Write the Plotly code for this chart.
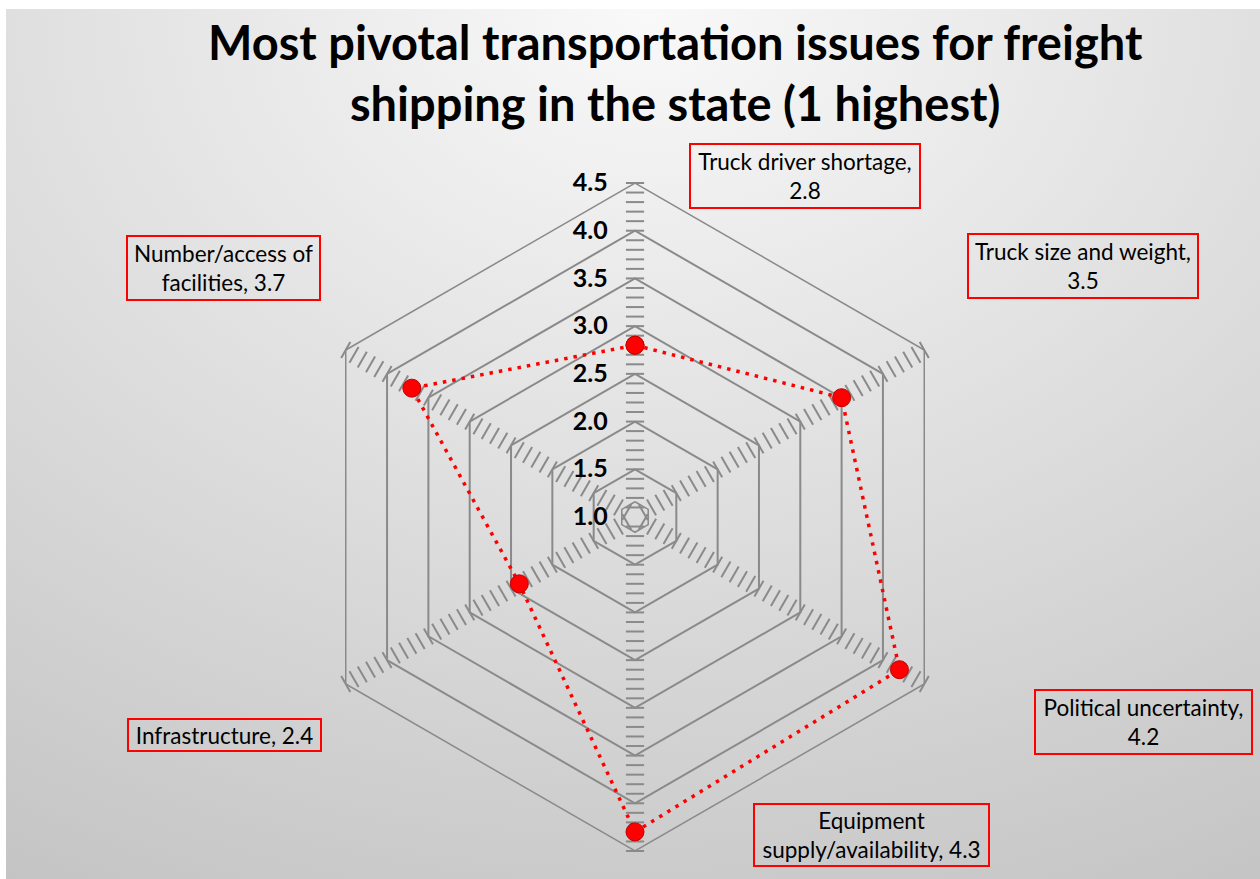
import base64
import numpy as np
import plotly.graph_objects as go

# Survey categories (clockwise from the top) and their average rank
categories = [
    "Truck driver shortage",
    "Truck size and weight",
    "Political uncertainty",
    "Equipment supply/availability",
    "Infrastructure",
    "Number/access of facilities",
]
values = [2.8, 3.5, 4.2, 4.3, 2.4, 3.7]

# Wrapped label text for each category's callout box
label_formats = [
    "Truck driver shortage,<br>{v}",
    "Truck size and weight,<br>{v}",
    "Political uncertainty,<br>{v}",
    "Equipment<br>supply/availability, {v}",
    "Infrastructure, {v}",
    "Number/access of<br>facilities, {v}",
]

# Radial axis settings
r_min, r_max, r_major, r_minor = 1.0, 4.5, 0.5, 0.1

W, H = 1260, 879
cx, cy, R = 635, 517, 334  # pixel centre and outer radius of the web

GRID = "#8a8a8a"
RED = "#ff0000"

fig = go.Figure()

# Ruler-style ticks along every spoke (no spoke line itself)
tick_r = np.round(np.arange(r_min + r_minor, r_max + r_minor / 2, r_minor), 2)
for k, cat in enumerate(categories):
    fig.add_trace(go.Scatterpolar(
        r=tick_r,
        theta=[cat] * len(tick_r),
        mode="markers",
        marker=dict(symbol="line-ew", size=13, angle=60 * k,
                    line=dict(color=GRID, width=2)),
        hoverinfo="skip", showlegend=False,
    ))

# Tiny hexagon around the centre
fig.add_trace(go.Scatterpolar(
    r=[r_min + 0.16] * (len(categories) + 1),
    theta=categories + categories[:1],
    mode="lines", line=dict(color=GRID, width=1.5),
    hoverinfo="skip", showlegend=False,
))

# Data series
fig.add_trace(go.Scatterpolar(
    r=values + values[:1],
    theta=categories + categories[:1],
    mode="lines+markers",
    line=dict(color=RED, width=3.5, dash="3.5px,6px"),
    marker=dict(size=18, color=RED, line=dict(color="#c00000", width=1)),
    showlegend=False,
))

# Gradient background
svg = (
    "<svg xmlns='http://www.w3.org/2000/svg' width='1254' height='870'>"
    "<defs><radialGradient id='g' gradientUnits='userSpaceOnUse' cx='0' cy='0' r='1' "
    "gradientTransform='translate(640,0) scale(1500,1150)'>"
    "<stop offset='0' stop-color='#f9f9f9'/>"
    "<stop offset='1' stop-color='#bcbcbc'/>"
    "</radialGradient></defs>"
    "<rect width='1254' height='870' fill='url(#g)'/></svg>"
)
bg_src = "data:image/svg+xml;base64," + base64.b64encode(svg.encode()).decode()

# Callout boxes: centre (px) and box size (px)
boxes = [
    (805, 176, 232, 66),
    (1083, 266, 232, 66),
    (1143.5, 722, 219, 66),
    (871.5, 835, 237, 64),
    (224.5, 735, 195, 34),
    (223.5, 268, 195, 66),
]
annotations = []
for fmt, v, (bx, by, bw, bh) in zip(label_formats, values, boxes):
    annotations.append(dict(
        text=fmt.format(v=v),
        x=bx / W, y=1 - by / H, xref="paper", yref="paper",
        xanchor="center", yanchor="middle", showarrow=False,
        align="center", width=bw - 4, height=bh - 4,
        bordercolor=RED, borderwidth=2, borderpad=0,
        font=dict(family="Lato", size=22.5, color="#000000"),
    ))

# Chart title
annotations.append(dict(
    text="Most pivotal transportation issues for freight<br>shipping in the state (1 highest)",
    x=675 / W, y=1 - 12 / H, xref="paper", yref="paper",
    xanchor="center", yanchor="top", showarrow=False, align="center",
    font=dict(family="Lato", size=47, color="#000000", weight="bold"),
))

fig.update_layout(
    width=W, height=H,
    margin=dict(l=0, r=0, t=0, b=0),
    paper_bgcolor="white",
    images=[dict(source=bg_src, xref="paper", yref="paper",
                 x=6 / W, y=1 - 9 / H, sizex=1254 / W, sizey=870 / H,
                 xanchor="left", yanchor="top", sizing="stretch", layer="below")],
    polar=dict(
        domain=dict(x=[(cx - R) / W, (cx + R) / W],
                    y=[(H - cy - R) / H, (H - cy + R) / H]),
        bgcolor="rgba(0,0,0,0)",
        gridshape="linear",
        radialaxis=dict(
            range=[r_min, r_max], dtick=r_major, tick0=r_min, tickformat=".1f",
            angle=90, tickangle=90, side="counterclockwise",
            showline=False, showgrid=True, gridcolor=GRID, gridwidth=1.5,
            ticks="outside", ticklen=18, tickcolor="rgba(0,0,0,0)",
            tickfont=dict(family="Lato", size=25, color="#000000", weight="bold"),
        ),
        angularaxis=dict(
            categoryarray=categories, direction="clockwise", rotation=90,
            showgrid=False, showline=True, linecolor=GRID, linewidth=1.5,
            showticklabels=False, ticks="",
        ),
    ),
    annotations=annotations,
)

fig.write_html("out.html")
